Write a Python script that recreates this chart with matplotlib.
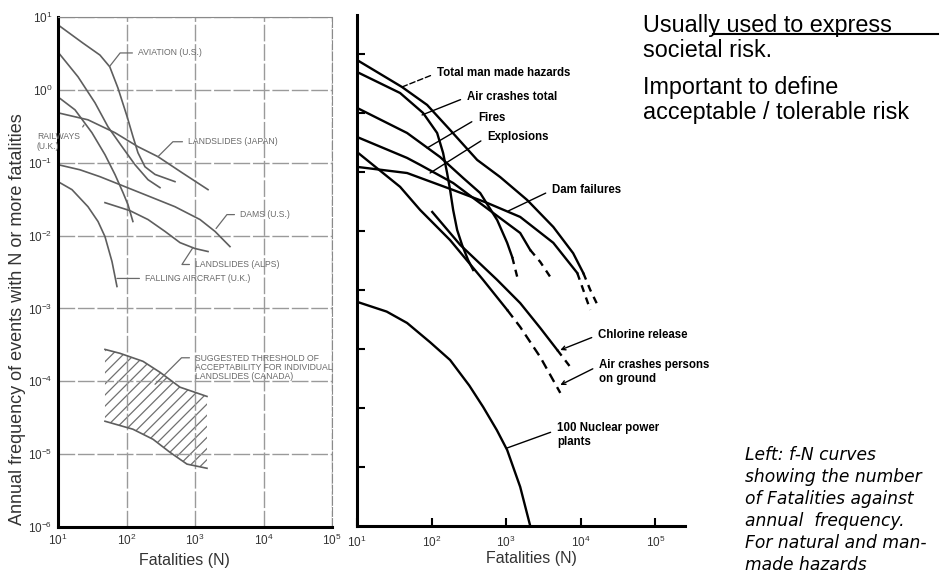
import matplotlib.pyplot as plt
from matplotlib.lines import Line2D

plt.rcParams['font.family'] = ['Liberation Sans', 'DejaVu Sans']
plt.rcParams['mathtext.fontset'] = 'custom'
plt.rcParams['mathtext.rm'] = 'Liberation Sans'
plt.rcParams['mathtext.it'] = 'Liberation Sans:italic'
plt.rcParams['hatch.linewidth'] = 0.9

# ---- left: natural hazards f-N curves ----
aviation_n = [10, 23, 41, 57, 75, 102, 124, 147, 186, 261, 510]
aviation_f = [7.8, 4.4, 3.0, 2.07, 1.06, 0.43, 0.23, 0.137, 0.088, 0.069, 0.055]
curve_a_n = [10, 19.6, 34.7, 53.7, 86, 133, 206, 308]
curve_a_f = [3.3, 1.51, 0.664, 0.311, 0.166, 0.094, 0.0585, 0.0455]
railways_n = [10, 17.7, 31.3, 48.5, 68, 89, 105, 124]
railways_f = [0.80, 0.532, 0.258, 0.129, 0.0686, 0.0388, 0.0266, 0.0156]
ls_japan_n = [10, 27.4, 68, 147, 288, 646, 1549]
ls_japan_f = [0.484, 0.388, 0.258, 0.166, 0.121, 0.073, 0.0427]
dams_n = [10, 20.9, 41, 95, 220, 510, 1183, 1960, 3240]
dams_f = [0.094, 0.080, 0.0643, 0.0469, 0.0342, 0.0249, 0.0166, 0.0114, 0.00706]
ls_alps_n = [48.5, 112, 206, 365, 604, 1000, 1549]
ls_alps_f = [0.0283, 0.022, 0.0166, 0.0114, 0.0080, 0.00664, 0.00604]
falling_n = [10, 16, 27.4, 38.4, 48.5, 61.4, 72.6]
falling_f = [0.055, 0.0427, 0.0249, 0.0156, 0.00968, 0.0044, 0.002]
band_upper_n = [48.5, 80.4, 174, 308, 604, 1496]
band_upper_f = [2.74e-4, 2.42e-4, 1.88e-4, 1.33e-4, 8.3e-5, 6.2e-5]
band_lower_n = [48.5, 124, 244, 431, 764, 1496]
band_lower_f = [2.83e-5, 2.2e-5, 1.6e-5, 1.06e-5, 7.3e-6, 6.4e-6]

# ---- right: man-made hazards (solid part, dashed extension) ----
total_n = [10, 40, 87, 177, 408, 830, 1910, 4280, 7900, 10800]
total_f = [0.079, 0.0276, 0.0137, 5.15e-3, 1.6e-3, 8.2e-4, 3.35e-4, 1.17e-4, 4.2e-5, 1.94e-5]
total_dash_n = [10800, 13400, 17200]
total_dash_f = [1.94e-5, 1e-5, 5.2e-6]
air_total_n = [10, 37.8, 76.9, 118.6, 142.6, 161.4, 177, 194.5, 220, 256, 309, 361]
air_total_f = [0.0495, 0.0218, 0.01, 4.58e-3, 2.1e-3, 9.6e-4, 4.95e-4, 2.27e-4, 1.04e-4, 5.8e-5, 3.2e-5, 2.18e-5]
fires_n = [10, 46.9, 130, 265, 448, 757, 1030, 1205]
fires_f = [0.0122, 4.58e-3, 1.79e-3, 7.9e-4, 4.4e-4, 1.53e-4, 6.3e-5, 3.6e-5]
fires_dash_n = [1205, 1406]
fires_dash_f = [3.6e-5, 1.66e-5]
explosions_n = [10, 46.9, 70.2, 194.5, 670, 1540, 2100]
explosions_f = [3.92e-3, 1.73e-3, 1.32e-3, 6.5e-4, 2.02e-4, 9.25e-5, 4.76e-5]
explosions_dash_n = [2100, 2860, 3900]
explosions_dash_f = [4.76e-5, 2.99e-5, 1.66e-5]
dam_n = [10, 46.9, 194.5, 556, 1540, 4280, 8970]
dam_f = [1.22e-3, 9.6e-4, 4.95e-4, 2.99e-4, 1.73e-4, 6.3e-5, 1.94e-5]
dam_dash_n = [8970, 10800, 13400]
dam_dash_f = [1.94e-5, 1e-5, 4.6e-6]
ground_n = [10, 37.8, 70.2, 177, 491, 1030]
ground_f = [2.18e-3, 5.6e-4, 2.27e-4, 7.0e-5, 1.48e-5, 4.6e-6]
ground_dash_n = [1030, 1540, 2860, 5310]
ground_dash_f = [4.6e-6, 2.36e-6, 7.3e-7, 1.8e-7]
chlorine_n = [102, 242, 757, 1540, 2860, 4840]
chlorine_f = [2.1e-4, 5.8e-5, 1.48e-5, 6.0e-6, 2.27e-6, 9.6e-7]
chlorine_dash_n = [4840, 7230]
chlorine_dash_f = [9.6e-7, 4.95e-7]
nuclear_n = [10, 25, 46.9, 95.5, 177, 320, 491, 750, 1030, 1540, 2100]
nuclear_f = [6.3e-6, 4.3e-6, 2.76e-6, 1.3e-6, 6.5e-7, 2.4e-7, 1.04e-7, 4.2e-8, 1.94e-8, 4.6e-9, 1e-9]

decades_x = [1e1, 1e2, 1e3, 1e4, 1e5]
decades_left_y = [1e-6, 1e-5, 1e-4, 1e-3, 1e-2, 1e-1, 1e0, 1e1]
decades_right_y = [1e-8, 1e-7, 1e-6, 1e-5, 1e-4, 1e-3, 1e-2, 1e-1]

fig = plt.figure(figsize=(9.4, 5.78), dpi=100)

# left panel
ax = fig.add_axes([0.0617, 0.0882, 0.2915, 0.8824])
ax.set_xscale('log')
ax.set_yscale('log')
ax.set_xlim(10, 1e5)
ax.set_ylim(1e-6, 10)
ax.set_xticks(decades_x)
ax.set_yticks(decades_left_y)
ax.minorticks_off()
ax.grid(True, color='#9a9a9a', ls=(0, (12, 2)), lw=1.0)
ax.tick_params(length=0, labelsize=8.5, labelcolor='#333333', pad=4)
for s in ['left', 'bottom']:
    ax.spines[s].set_linewidth(2.2)
    ax.spines[s].set_color('black')
ax.spines['top'].set_color('#8a8a8a')
ax.spines['right'].set_color('#8a8a8a')
ax.spines['right'].set_linestyle((0, (8, 2)))

grey = '#5e5e5e'
for n, f in [(aviation_n, aviation_f), (curve_a_n, curve_a_f), (railways_n, railways_f),
             (ls_japan_n, ls_japan_f), (dams_n, dams_f), (ls_alps_n, ls_alps_f),
             (falling_n, falling_f)]:
    ax.plot(n, f, color=grey, lw=1.2)

ax.fill(band_upper_n + band_lower_n[::-1], band_upper_f + band_lower_f[::-1],
        facecolor='none', edgecolor='#707070', hatch='///', lw=0)
ax.plot(band_upper_n, band_upper_f, color=grey, lw=1.2)
ax.plot(band_lower_n, band_lower_f, color=grey, lw=1.2)

small = dict(fontsize=6.2, color='#6a6a6a', va='center', ha='left')


def tag(text, xy, xytext, angle_b=None, relpos=(0, 0.5), **kw):
    if angle_b is None:
        cs = 'arc3'
    else:
        cs = 'angle,angleA=0,angleB=%d,rad=0' % angle_b
    props = dict(small)
    props.update(kw)
    ax.annotate(text, xy=xy, xytext=xytext,
                arrowprops=dict(arrowstyle='-', color='#6a6a6a', lw=0.9,
                                connectionstyle=cs, relpos=relpos,
                                shrinkA=2, shrinkB=0),
                **props)


tag('AVIATION (U.S.)', (57.4, 2.13), (147, 3.21), 52)
tag('RAILWAYS\n(U.K.)', (24, 0.33), (4.9, 0.194), 56, relpos=(1, 0.25))
tag('LANDSLIDES (JAPAN)', (288, 0.121), (791, 0.194), 45)
tag('DAMS (U.S.)', (2030, 0.0125), (4540, 0.0194), 52)
tag('LANDSLIDES (ALPS)', (935, 0.00686), (1000, 0.00401), 57)
tag('FALLING AIRCRAFT (U.K.)', (72.6, 0.00258), (186, 0.00258))
tag('SUGGESTED THRESHOLD OF\nACCEPTABILITY FOR INDIVIDUAL\nLANDSLIDES (CANADA)',
    (261, 9.1e-5), (1000, 1.56e-4), 45, relpos=(0, 0.85), linespacing=1.0)

# right panel
ax2 = fig.add_axes([0.3798, 0.0900, 0.349, 0.884])
ax2.set_xscale('log')
ax2.set_yscale('log')
ax2.set_xlim(10, 2.5e5)
ax2.set_ylim(1e-9, 0.457)
ax2.set_xticks(decades_x)
ax2.set_yticks(decades_right_y)
ax2.minorticks_off()
ax2.set_yticklabels([])
ax2.tick_params(direction='in', length=6, width=1.5, labelsize=8.5,
                labelcolor='#333333', pad=6)
ax2.spines['top'].set_visible(False)
ax2.spines['right'].set_visible(False)
ax2.spines['left'].set_linewidth(2.2)
ax2.spines['bottom'].set_linewidth(2.2)

dash = (0, (3, 2.5))
for n, f in [(total_n, total_f), (air_total_n, air_total_f), (fires_n, fires_f),
             (explosions_n, explosions_f), (dam_n, dam_f), (ground_n, ground_f),
             (chlorine_n, chlorine_f), (nuclear_n, nuclear_f)]:
    ax2.plot(n, f, color='black', lw=1.7)
for n, f in [(total_dash_n, total_dash_f), (fires_dash_n, fires_dash_f),
             (explosions_dash_n, explosions_dash_f), (dam_dash_n, dam_dash_f),
             (chlorine_dash_n, chlorine_dash_f)]:
    ax2.plot(n, f, color='black', lw=1.7, ls=dash)
ax2.plot(ground_dash_n, ground_dash_f, color='black', lw=1.7, ls=(0, (4, 2.5)))

bold = dict(fontsize=8.3, fontweight='bold', va='center', ha='left', color='black')


def label(text, xy, xytext, style='-', ls='-', relpos=(0, 0.5)):
    ax2.annotate(text, xy=xy, xytext=xytext,
                 arrowprops=dict(arrowstyle=style, color='black', lw=1.0, ls=ls,
                                 relpos=relpos, shrinkA=3, shrinkB=0,
                                 mutation_scale=7),
                 **bold)


label('Total man made hazards', (40.2, 0.0276), (118.6, 0.0477), ls=(0, (4, 2)))
label('Air crashes total', (74.5, 9.25e-3), (300, 0.01866))
label('Fires', (87.1, 2.55e-3), (421, 8.22e-3))
label('Explosions', (95.5, 9.6e-4), (556, 3.92e-3))
label('Dam failures', (1064, 2.18e-4), (4140, 4.95e-4))
label('Chlorine release', (5310, 9.6e-7), (17200, 1.73e-6), style='->')
label('Air crashes persons\non ground', (5310, 2.45e-7), (17700, 4.07e-7), style='->',
      relpos=(0, 0.75))
label('100 Nuclear power\nplants', (1030, 2.1e-8), (4840, 3.48e-8), relpos=(0, 0.7))

# axis titles
fig.text(18 / 940, 1 - 319 / 578, 'Annual frequency of events with N or more fatalities',
         rotation=90, ha='center', va='center', fontsize=13, color='#333333')
fig.text(184 / 940, 1 - 560 / 578, 'Fatalities (N)', ha='center', va='center',
         fontsize=11.5, color='#333333')
fig.text(531 / 940, 1 - 559 / 578, 'Fatalities (N)', ha='center', va='center',
         fontsize=11.5, color='#333333')

# side notes
notes = ['Usually used to express', 'societal risk.', 'Important to define',
         'acceptable / tolerable risk']
note_baselines = [32, 57, 94, 119]
for txt, yb in zip(notes, note_baselines):
    fig.text(643 / 940, 1 - yb / 578, txt, ha='left', va='baseline', fontsize=16.8)
fig.add_artist(Line2D([713 / 940, 938 / 940], [1 - 34 / 578, 1 - 34 / 578],
                      color='black', lw=1.5))
caption = ['Left: f-N curves', 'showing the number', 'of Fatalities against',
           'annual  frequency.', 'For natural and man-', 'made hazards']
caption_baselines = [460, 482, 504, 526, 548, 570]
for txt, yb in zip(caption, caption_baselines):
    fig.text(745 / 940, 1 - yb / 578, txt, ha='left', va='baseline', fontsize=12.3,
             style='italic', family=['DejaVu Sans'])

fig.savefig('out.png', dpi=100)
